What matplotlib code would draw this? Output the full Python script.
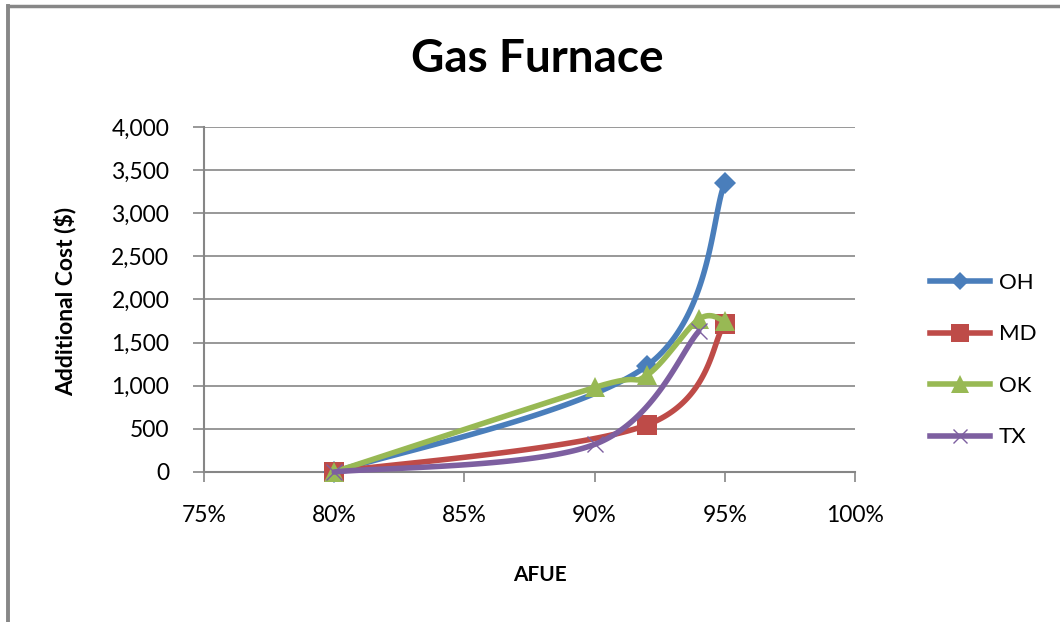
import numpy as np
import matplotlib
matplotlib.use("Agg")
import matplotlib.pyplot as plt
from matplotlib.ticker import FuncFormatter
from matplotlib.lines import Line2D

# AFUE levels (fraction) and additional cost ($) per state
oh_afue = [0.80, 0.92, 0.95]
oh_cost = [0, 1230, 3350]

md_afue = [0.80, 0.92, 0.95]
md_cost = [0, 545, 1720]

ok_afue = [0.80, 0.90, 0.92, 0.94, 0.95]
ok_cost = [0, 980, 1120, 1770, 1750]

tx_afue = [0.80, 0.90, 0.94]
tx_cost = [0, 320, 1630]

series_names = ["OH", "MD", "OK", "TX"]
x_ticks = [0.75, 0.80, 0.85, 0.90, 0.95, 1.00]
y_ticks = [0, 500, 1000, 1500, 2000, 2500, 3000, 3500, 4000]

FONT = ["Lato", "DejaVu Sans"]
plt.rcParams["font.family"] = FONT

fig = plt.figure(figsize=(10.6, 6.22), dpi=100)
ax = fig.add_axes([0.1925, 0.2412, 0.6141, 0.5546])
ax.set_xlim(0.75, 1.00)
ax.set_ylim(0, 4000)

# scale factors so the smoothing is computed in an isotropic (screen-like) space
SX = 649 / 0.25
SY = 345 / 4000.0


def smooth(xs, ys, n=60):
    p = np.column_stack([np.asarray(xs) * SX, np.asarray(ys) * SY])
    m = len(p)
    out = []
    for i in range(m - 1):
        p0 = p[i - 1] if i > 0 else p[i]
        p1 = p[i]
        p2 = p[i + 1]
        p3 = p[i + 2] if i + 2 < m else p[i + 1]
        c1 = p1 + (p2 - p0) / 6.0
        c2 = p2 - (p3 - p1) / 6.0
        t = np.linspace(0, 1, n)[:, None]
        seg = ((1 - t) ** 3) * p1 + 3 * ((1 - t) ** 2) * t * c1 + 3 * (1 - t) * t ** 2 * c2 + t ** 3 * p2
        out.append(seg if i == 0 else seg[1:])
    pts = np.vstack(out)
    return pts[:, 0] / SX, pts[:, 1] / SY


styles = {
    "OH": dict(color="#4A7EBB", marker="D", ms=11, mew=0),
    "MD": dict(color="#BE4B48", marker="s", ms=15, mew=0),
    "OK": dict(color="#98B954", marker="^", ms=15, mew=0),
    "TX": dict(color="#7D5FA0", marker="x", ms=12, mew=1.0),
}
data = {
    "OH": (oh_afue, oh_cost),
    "MD": (md_afue, md_cost),
    "OK": (ok_afue, ok_cost),
    "TX": (tx_afue, tx_cost),
}

for z, name in enumerate(series_names):
    xs, ys = data[name]
    st = styles[name]
    sx, sy = smooth(xs, ys)
    ax.plot(sx, sy, color=st["color"], lw=4.0, solid_capstyle="round", zorder=3 + z, clip_on=False)
    ax.plot(xs, ys, ls="none", marker=st["marker"], ms=st["ms"], color=st["color"],
            mew=st["mew"], zorder=3 + z, clip_on=False)

# gridlines and axes in Excel-like gray
grid_c = "#868686"
ax.set_xticks(x_ticks)
ax.set_yticks(y_ticks)
ax.grid(axis="y", color=grid_c, lw=1.2)
ax.set_axisbelow(True)
for s in ["top", "right"]:
    ax.spines[s].set_visible(False)
for s in ["left", "bottom"]:
    ax.spines[s].set_color(grid_c)
    ax.spines[s].set_linewidth(1.5)
ax.tick_params(axis="y", direction="out", length=8, width=1.2, color=grid_c, pad=17,
               labelsize=16.5, labelcolor="#000000")
ax.tick_params(axis="x", direction="out", length=7, width=1.2, color=grid_c, pad=17,
               labelsize=16.5, labelcolor="#000000")
ax.yaxis.set_major_formatter(FuncFormatter(lambda v, p: f"{int(v):,}"))
ax.xaxis.set_major_formatter(FuncFormatter(lambda v, p: f"{round(v * 100):d}%"))

ax.set_xlabel("AFUE", fontsize=15, fontweight="bold")
ax.set_ylabel("Additional Cost ($)", fontsize=16.5, fontweight="bold")
ax.xaxis.set_label_coords(0.516, -0.2986)
ax.yaxis.set_label_coords(-0.2135, 0.493)
ax.xaxis.label.set_va("center")
ax.yaxis.label.set_va("center")

fig.text(0.507, 0.905, "Gas Furnace", ha="center", va="center", fontsize=33, fontweight="bold")

# legend
handles = []
for name in series_names:
    st = styles[name]
    handles.append(Line2D([], [], color=st["color"], lw=4.0, marker=st["marker"],
                          ms=st["ms"] * 0.85, mew=st["mew"]))
fig.legend(handles, series_names, loc="center left", bbox_to_anchor=(0.877, 0.421),
           frameon=False, fontsize=16, handlelength=2.7, handletextpad=0.4,
           labelspacing=1.42, borderpad=0, borderaxespad=0)

# chart frame (top and left edges)
fig.add_artist(Line2D([0.0075, 1.0], [0.9905, 0.9905], color="#878787", lw=2.5, transform=fig.transFigure))
fig.add_artist(Line2D([0.0075, 0.0075], [0.0, 0.9905], color="#878787", lw=2.8, transform=fig.transFigure))

fig.savefig("out.png", dpi=100, facecolor="white")
